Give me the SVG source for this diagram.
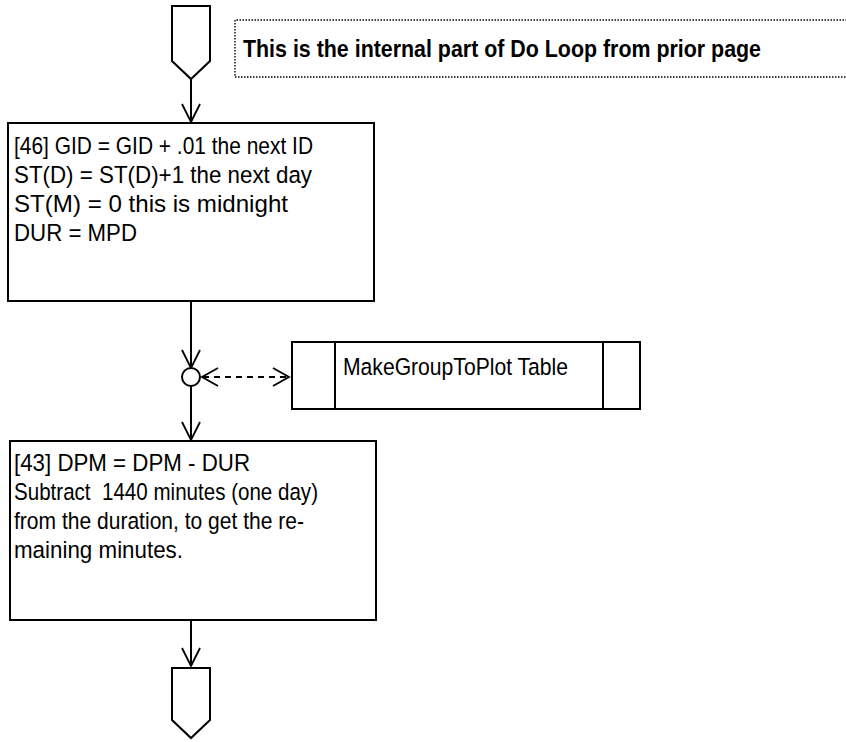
<svg xmlns="http://www.w3.org/2000/svg" width="846" height="742" viewBox="0 0 846 742">
<style>
.box{fill:#fff;stroke:#000;stroke-width:2}
.ln{fill:none;stroke:#000;stroke-width:2}
.ah{fill:none;stroke:#000;stroke-width:1.8}
.dash{fill:none;stroke:#000;stroke-width:2;stroke-dasharray:6,5}
.t{font-family:"Liberation Sans",Arial,sans-serif;font-size:24.5px;fill:#000}
.tb{font-family:"Liberation Sans",Arial,sans-serif;font-size:23.5px;font-weight:bold;fill:#000}
</style>
<rect width="846" height="742" fill="#fff"/>
<g id="connectors">
<line class="ln" x1="191" y1="79" x2="191" y2="122"/>
<polyline class="ah" points="182,104 191,122 200,104"/>
<line class="ln" x1="191" y1="301" x2="191" y2="368"/>
<polyline class="ah" points="182,350 191,368 200,350"/>
<line class="ln" x1="191" y1="386" x2="191" y2="440"/>
<polyline class="ah" points="182,422 191,440 200,422"/>
<line class="dash" x1="203" y1="377" x2="288" y2="377"/>
<polyline class="ah" points="218,368 202,377 218,386"/>
<polyline class="ah" points="273,368 289,377 273,386"/>
<line class="ln" x1="191" y1="620" x2="191" y2="666"/>
<polyline class="ah" points="182,648 191,666 200,648"/>
</g>
<g id="start">
<polygon class="box" points="172,6 210,6 210,61 191,79 172,61"/>
</g>
<g id="note">
<path d="M850,20 H235 V77 H850" fill="none" stroke="#000" stroke-width="1.4" stroke-dasharray="1.5,1.5"/>
<text class="tb" x="243" y="57" textLength="518" lengthAdjust="spacingAndGlyphs">This is the internal part of Do Loop from prior page</text>
</g>
<g id="step46">
<rect class="box" x="8" y="123" width="366" height="178"/>
<text class="t" x="14" y="154" textLength="299" lengthAdjust="spacingAndGlyphs">[46] GID = GID + .01 the next ID</text>
<text class="t" x="14" y="183" textLength="298" lengthAdjust="spacingAndGlyphs">ST(D) = ST(D)+1 the next day</text>
<text class="t" x="14" y="212" textLength="274" lengthAdjust="spacingAndGlyphs">ST(M) = 0 this is midnight</text>
<text class="t" x="14" y="241" textLength="123" lengthAdjust="spacingAndGlyphs">DUR = MPD</text>
</g>
<g id="junction">
<circle cx="191" cy="377" r="9" fill="#fff" stroke="#000" stroke-width="2"/>
</g>
<g id="table">
<rect class="box" x="292" y="342" width="348" height="67"/>
<line class="ln" x1="335" y1="342" x2="335" y2="409"/>
<line class="ln" x1="603" y1="342" x2="603" y2="409"/>
<text class="t" x="343" y="375" textLength="225" lengthAdjust="spacingAndGlyphs">MakeGroupToPlot Table</text>
</g>
<g id="step43">
<rect class="box" x="10" y="441" width="366" height="179"/>
<text class="t" x="14" y="471" textLength="236" lengthAdjust="spacingAndGlyphs">[43] DPM = DPM - DUR</text>
<text class="t" x="14" y="500" textLength="304" lengthAdjust="spacingAndGlyphs" xml:space="preserve">Subtract  1440 minutes (one day)</text>
<text class="t" x="14" y="529" textLength="290" lengthAdjust="spacingAndGlyphs">from the duration, to get the re-</text>
<text class="t" x="14" y="558" textLength="169" lengthAdjust="spacingAndGlyphs">maining minutes.</text>
</g>
<g id="end">
<polygon class="box" points="172,668 210,668 210,720 191,738 172,720"/>
</g>
</svg>
